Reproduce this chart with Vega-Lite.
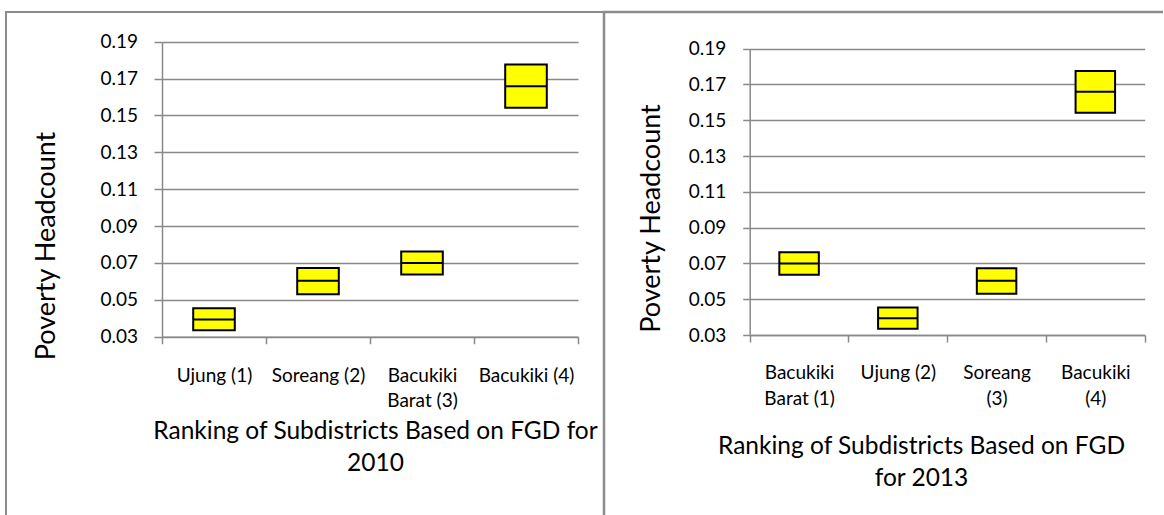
{
  "$schema": "https://vega.github.io/schema/vega-lite/v6.json",
  "padding": {"left": 5, "top": 10, "right": 0, "bottom": 0},
  "background": "white",
  "spacing": 0,
  "bounds": "flush",
  "config": {
    "font": "Lato",
    "axis": {
      "labelFont": "Lato", "titleFont": "Lato", "labelColor": "black", "titleColor": "black",
      "domainColor": "#898989", "tickColor": "#898989", "gridColor": "#898989",
      "titleFontWeight": "normal", "domainWidth": 1.5, "tickWidth": 1.5, "gridWidth": 1.5
    }
  },
  "datasets": {
    "fgd2010": [
      {"name": "Ujung (1)", "lo": 0.0335, "med": 0.0393, "hi": 0.0454},
      {"name": "Soreang (2)", "lo": 0.053, "med": 0.0603, "hi": 0.0673},
      {"name": "Bacukiki Barat (3)", "lo": 0.0637, "med": 0.07, "hi": 0.0762},
      {"name": "Bacukiki (4)", "lo": 0.1542, "med": 0.1659, "hi": 0.1776}
    ],
    "fgd2013": [
      {"name": "Bacukiki Barat (1)", "lo": 0.0637, "med": 0.07, "hi": 0.0762},
      {"name": "Ujung (2)", "lo": 0.0335, "med": 0.0393, "hi": 0.0454},
      {"name": "Soreang (3)", "lo": 0.053, "med": 0.0603, "hi": 0.0673},
      {"name": "Bacukiki (4)", "lo": 0.1542, "med": 0.1659, "hi": 0.1776}
    ]
  },
  "hconcat": [
    {
      "width": 598, "height": 503,
      "view": {"stroke": "#8c8c8c", "strokeWidth": 2, "strokeDash": [598, 1101, 503]},
      "data": {"name": "fgd2010"},
      "encoding": {
        "x": {
          "field": "name", "type": "nominal",
          "sort": ["Ujung (1)", "Soreang (2)", "Bacukiki Barat (3)", "Bacukiki (4)"],
          "scale": {"range": [156, 572], "paddingInner": 0, "paddingOuter": 0},
          "axis": {
            "title": ["Ranking of Subdistricts Based on FGD for", "2010"],
            "titleFontSize": 24.5, "titleX": 369, "titleY": 83, "titleAlign": "center", "titleBaseline": "top", "titleLineHeight": 31.7,
            "labelExpr": "datum.value == 'Bacukiki Barat (3)' ? ['Bacukiki', 'Barat (3)'] : datum.value",
            "labelAngle": 0, "labelFontSize": 19, "labelLineHeight": 25, "labelPadding": 22.5,
            "labelLimit": 400, "labelOverlap": false,
            "tickSize": 7, "tickBand": "extent", "offset": -178.3, "grid": false
          }
        }
      },
      "layer": [
        {
          "mark": {"type": "bar", "fill": "#FFFF00", "stroke": "black", "strokeWidth": 2, "width": {"band": 0.4}},
          "encoding": {
            "y": {
              "field": "lo", "type": "quantitative",
              "scale": {"domain": [0.03, 0.19], "range": [324.7, 29.7], "nice": false, "zero": false},
              "axis": {
                "title": "Poverty Headcount", "titleFontSize": 27, "titleX": -116, "titleY": 233.5, "titleAngle": -90,
                "titleAlign": "center", "titleBaseline": "middle",
                "values": [0.03, 0.05, 0.07, 0.09, 0.11, 0.13, 0.15, 0.17, 0.19], "format": ".2f",
                "labelFontSize": 19, "labelPadding": 16.5, "tickSize": 8, "offset": -156, "grid": true,
                "labelFlush": false, "labelOverlap": false
              }
            },
            "y2": {"field": "hi"}
          }
        },
        {
          "mark": {"type": "bar", "fill": "transparent", "stroke": "black", "strokeWidth": 2, "width": {"band": 0.4}},
          "encoding": {
            "y": {"field": "med", "type": "quantitative"},
            "y2": {"field": "med"}
          }
        }
      ]
    },
    {
      "width": 559, "height": 503,
      "view": {"stroke": "#8c8c8c", "strokeWidth": 2.5, "strokeDash": [559, 1062, 503]},
      "data": {"name": "fgd2013"},
      "encoding": {
        "x": {
          "field": "name", "type": "nominal",
          "sort": ["Bacukiki Barat (1)", "Ujung (2)", "Soreang (3)", "Bacukiki (4)"],
          "scale": {"range": [145.7, 540.7], "paddingInner": 0, "paddingOuter": 0},
          "axis": {
            "title": ["Ranking of Subdistricts Based on FGD", "for 2013"],
            "titleFontSize": 24.5, "titleX": 317, "titleY": 99.6, "titleAlign": "center", "titleBaseline": "top", "titleLineHeight": 31.7,
            "labelExpr": "datum.value == 'Bacukiki Barat (1)' ? ['Bacukiki', 'Barat (1)'] : datum.value == 'Soreang (3)' ? ['Soreang', '(3)'] : datum.value == 'Bacukiki (4)' ? ['Bacukiki', '(4)'] : datum.value",
            "labelAngle": 0, "labelFontSize": 19, "labelLineHeight": 26.5, "labelPadding": 21,
            "labelLimit": 400, "labelOverlap": false,
            "tickSize": 7, "tickBand": "extent", "offset": -180, "grid": false
          }
        }
      },
      "layer": [
        {
          "mark": {"type": "bar", "fill": "#FFFF00", "stroke": "black", "strokeWidth": 2, "width": {"band": 0.4}},
          "encoding": {
            "y": {
              "field": "lo", "type": "quantitative",
              "scale": {"domain": [0.03, 0.19], "range": [323, 36.7], "nice": false, "zero": false},
              "axis": {
                "title": "Poverty Headcount", "titleFontSize": 27, "titleX": -98, "titleY": 206, "titleAngle": -90,
                "titleAlign": "center", "titleBaseline": "middle",
                "values": [0.03, 0.05, 0.07, 0.09, 0.11, 0.13, 0.15, 0.17, 0.19], "format": ".2f",
                "labelFontSize": 19, "labelPadding": 17, "tickSize": 7, "offset": -145.7, "grid": true,
                "labelFlush": false, "labelOverlap": false
              }
            },
            "y2": {"field": "hi"}
          }
        },
        {
          "mark": {"type": "bar", "fill": "transparent", "stroke": "black", "strokeWidth": 2, "width": {"band": 0.4}},
          "encoding": {
            "y": {"field": "med", "type": "quantitative"},
            "y2": {"field": "med"}
          }
        }
      ]
    }
  ]
}
